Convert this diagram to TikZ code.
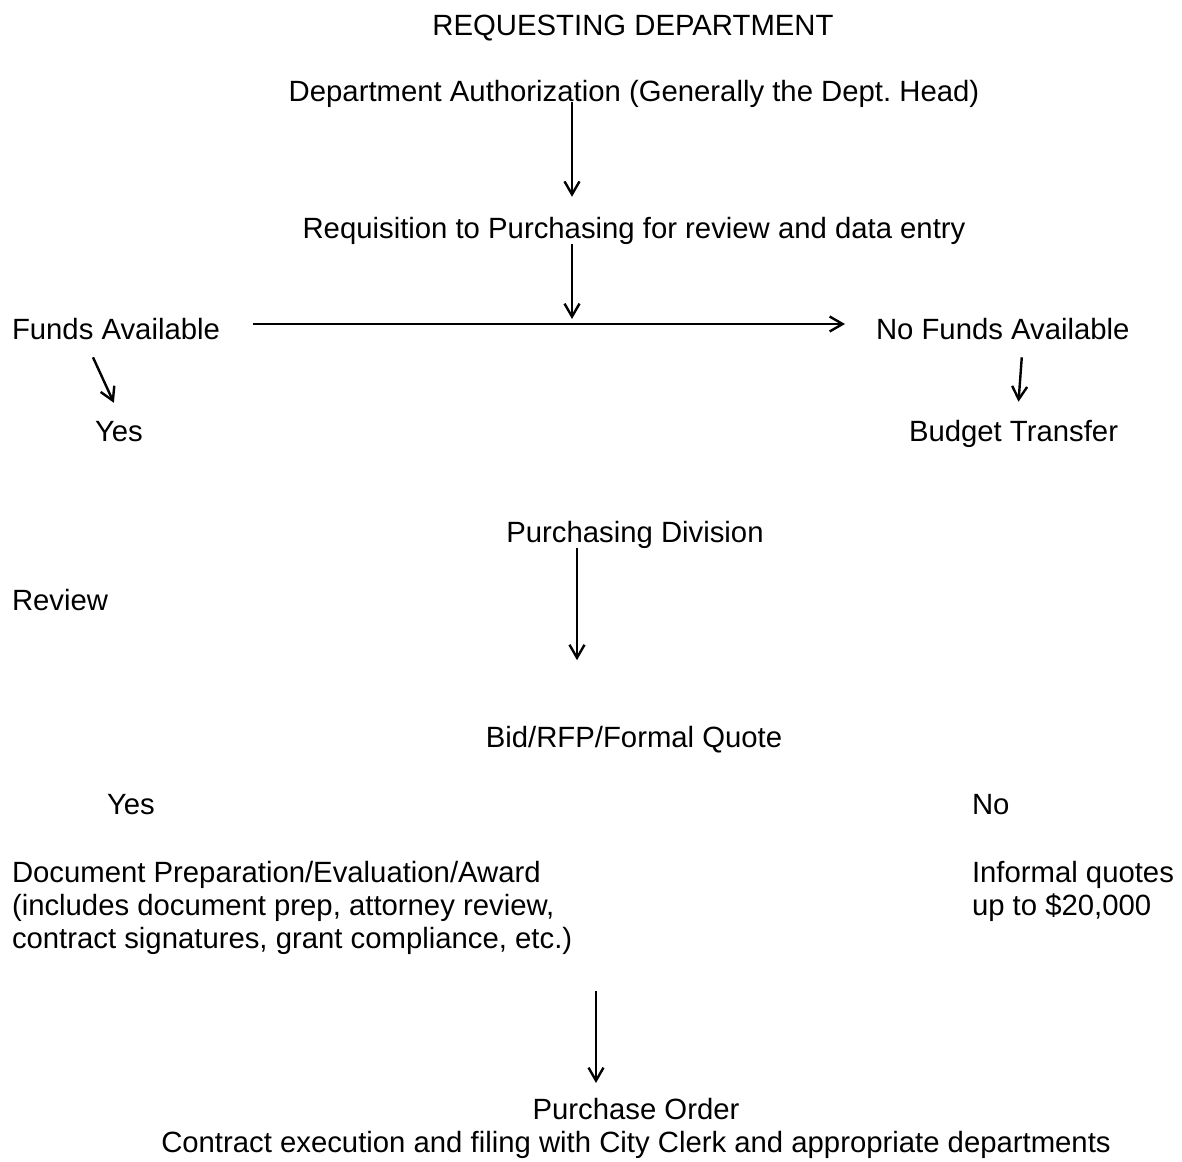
\documentclass[tikz,border=0pt]{standalone}
\usepackage{fontspec}
\setmainfont{Liberation Sans}
\usetikzlibrary{arrows.meta, positioning}
\frenchspacing

\begin{document}
\begin{tikzpicture}[x=0.5pt, y=-0.5pt,
    every node/.style={inner sep=0pt, outer sep=0pt,
      font=\fontsize{14.65pt}{16.5pt}\selectfont, text=black},
    mid/.style={anchor=base},
    lft/.style={anchor=base west},
    blk/.style={anchor=north west, align=left},
    ar/.style={-{Straight Barb[length=6.5pt, width=7.5pt]}, line width=1.2pt}]
    \useasboundingbox (0,0) rectangle (1182,1161);
    \node[mid] (head) at (633,36) {REQUESTING DEPARTMENT};
    \node[mid] (auth) at (634,102) {Department Authorization (Generally the Dept. Head)};
    \node[mid] (req) at (634,238) {Requisition to Purchasing for review and data entry};
    \node[lft] (funds) at (12,339) {Funds Available};
    \node[lft] (nofunds) at (876,339) {No Funds Available};
    \node[lft] (yes1) at (95,441) {Yes};
    \node[lft] (budget) at (909,441) {Budget Transfer};
    \node[mid] (purch) at (635,542) {Purchasing Division};
    \node[lft] (review) at (12,610) {Review};
    \node[mid] (bid) at (634,747) {Bid/RFP/Formal Quote};
    \node[lft] (yes2) at (107,814) {Yes};
    \node[lft] (no) at (972,814) {No};
    \node[blk] (doc) at (12,861.5) {Document Preparation/Evaluation/Award\\(includes document prep, attorney review,\\contract signatures, grant compliance, etc.)};
    \node[blk] (informal) at (972,861.5) {Informal quotes\\up to \$20,000};
    \node[anchor=north, align=center] (po) at (636,1098) {Purchase Order\\Contract execution and filing with City Clerk and appropriate departments};
    \coordinate (c1) at (572,0);
    \coordinate (split) at (572,324);
    \coordinate (c3) at (577,0);
    \coordinate (c4) at (596,0);
    \draw[ar, shorten <=-3pt, shorten >=10pt] (auth.south -| c1) -- (req.north -| c1);
    \draw[ar, shorten >=2.5pt] (req.south -| split) -- (split);
    \draw[ar, shorten <=16.5pt, shorten >=15.5pt] (funds.east |- split) -- (nofunds.west |- split);
    \draw[ar] ([shift={(-23,18)}]funds.south) -- ([shift={(-5,-18)}]yes1.north);
    \draw[ar] ([shift={(19,18)}]nofunds.south) -- ([shift={(5,-18)}]budget.north);
    \draw[ar, shorten >=32.8pt] (purch.south -| c3) -- (bid.north -| c3);
    \draw[ar, shorten <=18pt, shorten >=7.5pt] (doc.south -| c4) -- (po.north -| c4);
\end{tikzpicture}
\end{document}
